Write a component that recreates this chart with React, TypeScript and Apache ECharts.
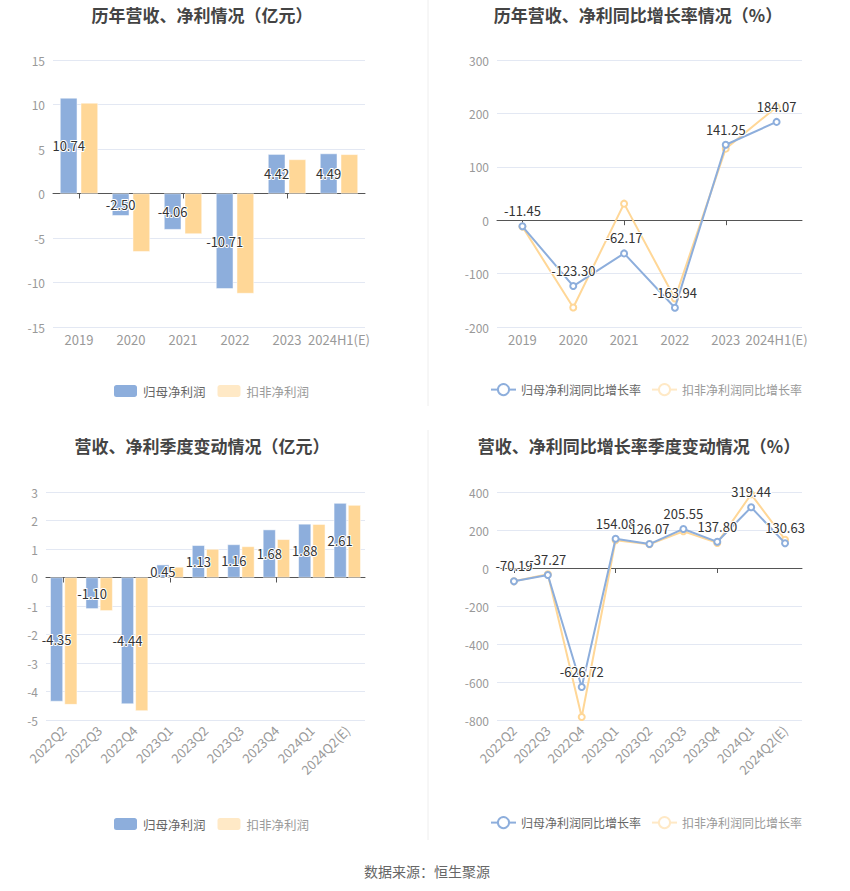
import React, { useEffect, useRef } from "react";
import * as echarts from "echarts";

const years = ["2019", "2020", "2021", "2022", "2023", "2024H1(E)"];
const annualNetProfit = [10.74, -2.5, -4.06, -10.71, 4.42, 4.49];
const annualDeductedProfit = [10.18, -6.54, -4.55, -11.24, 3.83, 4.4];
const annualNetGrowth = [-11.45, -123.3, -62.17, -163.94, 141.25, 184.07];
const annualDeductedGrowth = [-12.0, -163.6, 31.0, -146.7, 134.0, 212.0];

const quarters = ["2022Q2", "2022Q3", "2022Q4", "2023Q1", "2023Q2", "2023Q3", "2023Q4", "2024Q1", "2024Q2(E)"];
const quarterNetProfit = [-4.35, -1.1, -4.44, 0.45, 1.13, 1.16, 1.68, 1.88, 2.61];
const quarterDeductedProfit = [-4.46, -1.17, -4.68, 0.37, 1.0, 1.09, 1.34, 1.87, 2.54];
const quarterNetGrowth = [-70.19, -37.27, -626.72, 154.08, 126.07, 205.55, 137.8, 319.44, 130.63];
const quarterDeductedGrowth = [-70.0, -33.0, -784.0, 146.0, 125.0, 193.0, 132.0, 388.0, 149.0];

// y axis ranges: [min, max, interval]
const yRange1 = [-15, 15, 5];
const yRange2 = [-200, 300, 100];
const yRange3 = [-5, 3, 1];
const yRange4 = [-800, 400, 200];

const titles = [
  "历年营收、净利情况（亿元）",
  "历年营收、净利同比增长率情况（%）",
  "营收、净利季度变动情况（亿元）",
  "营收、净利同比增长率季度变动情况（%）",
];
const barNames = ["归母净利润", "扣非净利润"];
const lineNames = ["归母净利润同比增长率", "扣非净利润同比增长率"];
const sourceText = "数据来源：恒生聚源";

const BLUE = "#8DAEDC";
const ORANGE = "#FFD797";
const PALE = "#FFE9C6";
const FONT = '"Microsoft YaHei", "Noto Sans CJK SC", sans-serif';

export default function App() {
  const ref = useRef<HTMLDivElement>(null);

  useEffect(() => {
    document.body.style.margin = "0";
    if (!ref.current) return;
    const chart = echarts.init(ref.current, undefined, { renderer: "svg" });

    const grids = [
      { left: 53, top: 60, width: 312, height: 267 },
      { left: 497, top: 60, width: 305, height: 267 },
      { left: 46, top: 492, width: 319, height: 228 },
      { left: 497, top: 492, width: 305, height: 228 },
    ];
    const cats = [years, years, quarters, quarters];
    const ranges = [yRange1, yRange2, yRange3, yRange4];

    const xAxis: any[] = [];
    const yAxis: any[] = [];
    cats.forEach((c, i) => {
      xAxis.push({
        type: "category",
        gridIndex: i,
        data: c,
        position: "bottom",
        axisLine: { show: true, onZero: true, lineStyle: { color: "#555" } },
        axisTick: { show: true, alignWithLabel: true, length: 5, lineStyle: { color: "#555" } },
        axisLabel: { show: false },
        splitLine: { show: false },
      });
      xAxis.push({
        type: "category",
        gridIndex: i,
        data: c,
        position: "bottom",
        axisLine: { show: false, onZero: false },
        axisTick: { show: false },
        axisLabel: {
          show: true,
          color: "#999",
          fontSize: 13,
          fontFamily: FONT,
          interval: 0,
          rotate: i >= 2 ? 45 : 0,
          margin: i >= 2 ? 8 : 6,
        },
        splitLine: { show: false },
      });
      const r = ranges[i];
      yAxis.push({
        type: "value",
        gridIndex: i,
        min: r[0],
        max: r[1],
        interval: r[2],
        axisLine: { show: false },
        axisTick: { show: false },
        axisLabel: { color: "#999", fontSize: 12, fontFamily: FONT, margin: 8 },
        splitLine: { lineStyle: { color: "#E3E8F3" } },
      });
    });

    const barLabel = {
      show: true,
      position: "inside",
      color: "#333",
      fontSize: 13,
      fontFamily: FONT,
      textBorderColor: "#fff",
      textBorderWidth: 2,
      formatter: (p: any) => Number(p.value).toFixed(2),
    };
    const lineLabel = {
      show: true,
      position: "top",
      color: "#333",
      fontSize: 13,
      fontFamily: FONT,
      textBorderColor: "#fff",
      textBorderWidth: 2,
      formatter: (p: any) => Number(p.value).toFixed(2),
    };

    const makeBars = (gi: number, net: number[], ded: number[], catGap: string, gap: string) => [
      {
        name: barNames[0],
        type: "bar",
        xAxisIndex: gi * 2,
        yAxisIndex: gi,
        data: net,
        barCategoryGap: catGap,
        barGap: gap,
        itemStyle: { color: BLUE, borderColor: "#fff", borderWidth: 0.5 },
        label: barLabel,
        z: 3,
      },
      {
        name: barNames[1],
        type: "bar",
        xAxisIndex: gi * 2,
        yAxisIndex: gi,
        data: ded,
        barCategoryGap: catGap,
        barGap: gap,
        itemStyle: { color: ORANGE, borderColor: "#fff", borderWidth: 0.5 },
        z: 2,
      },
    ];
    const makeLines = (gi: number, net: number[], ded: number[]) => [
      {
        name: lineNames[1],
        type: "line",
        xAxisIndex: gi * 2,
        yAxisIndex: gi,
        data: ded,
        symbol: "emptyCircle",
        symbolSize: 6,
        lineStyle: { color: ORANGE, width: 2 },
        itemStyle: { color: ORANGE, borderColor: ORANGE },
        z: 2,
      },
      {
        name: lineNames[0],
        type: "line",
        xAxisIndex: gi * 2,
        yAxisIndex: gi,
        data: net,
        symbol: "emptyCircle",
        symbolSize: 6,
        lineStyle: { color: BLUE, width: 2 },
        itemStyle: { color: BLUE, borderColor: BLUE },
        label: lineLabel,
        z: 3,
      },
    ];

    const barLegend = (left: number, top: number) => ({
      left,
      top,
      itemWidth: 25,
      itemHeight: 14,
      itemGap: 10,
      textStyle: { fontSize: 12.5, fontFamily: FONT },
      data: [
        { name: barNames[0], itemStyle: { color: BLUE }, textStyle: { color: "#666" } },
        { name: barNames[1], itemStyle: { color: PALE }, textStyle: { color: "#999" } },
      ],
    });
    const lineLegend = (left: number, top: number) => ({
      left,
      top,
      itemWidth: 25,
      itemHeight: 14,
      itemGap: 10,
      textStyle: { fontSize: 12, fontFamily: FONT },
      data: [
        { name: lineNames[0], itemStyle: { color: BLUE, borderColor: BLUE }, lineStyle: { color: BLUE }, textStyle: { color: "#666" } },
        { name: lineNames[1], itemStyle: { color: PALE, borderColor: PALE }, lineStyle: { color: PALE }, textStyle: { color: "#999" } },
      ],
    });

    const titleGraphic = (text: string, x: number, y: number) => ({
      type: "text",
      x,
      y,
      style: {
        text,
        fill: "#444",
        font: `bold 17px ${FONT}`,
        textAlign: "center",
        textVerticalAlign: "middle",
      },
    });

    chart.setOption({
      animation: false,
      textStyle: { fontFamily: FONT },
      grid: grids,
      xAxis,
      yAxis,
      legend: [barLegend(107, 378), lineLegend(485, 378), barLegend(107, 811), lineLegend(485, 811)],
      series: [
        ...makeBars(0, annualNetProfit, annualDeductedProfit, "27%", "20%"),
        ...makeLines(1, annualNetGrowth, annualDeductedGrowth),
        ...makeBars(2, quarterNetProfit, quarterDeductedProfit, "24%", "12%"),
        ...makeLines(3, quarterNetGrowth, quarterDeductedGrowth),
      ],
      graphic: [
        titleGraphic(titles[0], 202, 14),
        titleGraphic(titles[1], 638, 14),
        titleGraphic(titles[2], 202, 445),
        titleGraphic(titles[3], 639, 445),
        { type: "line", shape: { x1: 428, y1: 0, x2: 428, y2: 406 }, style: { stroke: "#EEE", lineWidth: 1 } },
        { type: "line", shape: { x1: 428, y1: 430, x2: 428, y2: 840 }, style: { stroke: "#EEE", lineWidth: 1 } },
        {
          type: "text",
          x: 427,
          y: 871,
          style: { text: sourceText, fill: "#666", font: `14px ${FONT}`, textAlign: "center", textVerticalAlign: "middle" },
        },
      ],
    });

    return () => chart.dispose();
  }, []);

  return <div ref={ref} style={{ width: 850, height: 891 }} />;
}
